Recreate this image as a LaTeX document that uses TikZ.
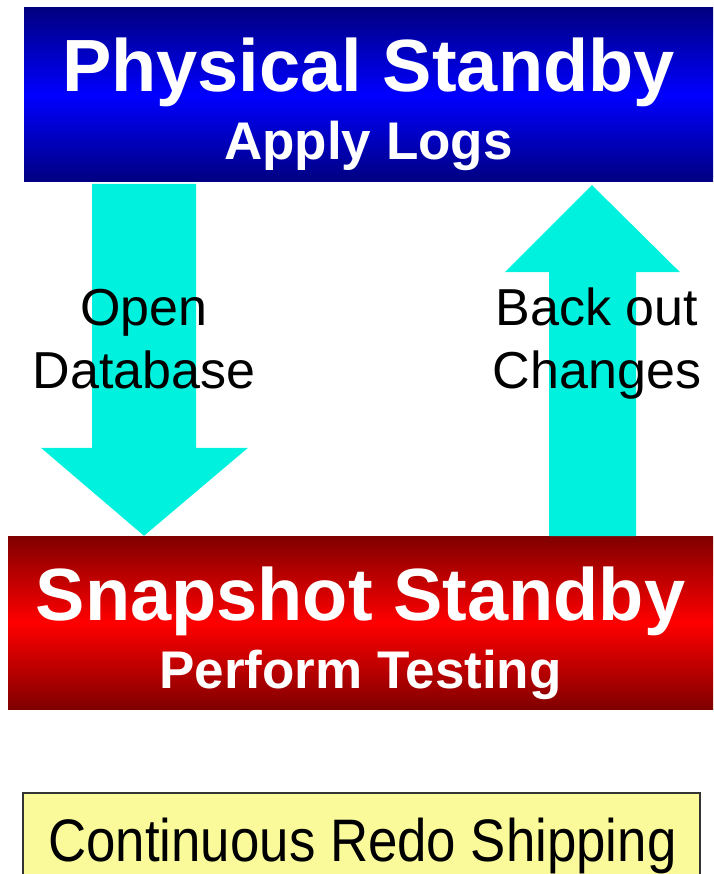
\documentclass[tikz,border=0pt]{standalone}
\usepackage{graphicx}
\usepackage{fontspec}
\setmainfont{Liberation Sans}
\usetikzlibrary{calc}

\definecolor{navyband}{RGB}{0,0,128}
\definecolor{blueband}{RGB}{0,0,255}
\definecolor{maroonband}{RGB}{128,0,0}
\definecolor{redband}{RGB}{255,0,0}
\definecolor{arrowcyan}{RGB}{0,242,222}
\definecolor{notefill}{RGB}{250,250,155}

\tikzset{
    band/.style={rectangle, inner sep=0pt, minimum height=174pt},
    bigtitle/.style={anchor=base, text=white, font=\fontsize{74}{89}\selectfont\bfseries},
    subtitle/.style={anchor=base, text=white, font=\fontsize{53}{64}\selectfont\bfseries},
    arrowtext/.style={anchor=base, font=\fontsize{52}{63}\selectfont},
}

\begin{document}
\begin{tikzpicture}[x=1pt, y=-1pt]
    \clip (0,0) rectangle (713,874);

    \node[band, minimum width=689pt,
        top color=navyband, bottom color=navyband, middle color=blueband] (phys) at (368.5,95) {};
    \node[band, minimum width=705pt, minimum height=173pt,
        top color=maroonband, bottom color=maroonband, middle color=redband] (snap) at (360.5,622.5) {};
    \node[rectangle, inner sep=0pt, draw=black!80, line width=1.5pt, fill=notefill,
        minimum width=677pt, minimum height=120pt, anchor=north] (shipping) at (361.5,792) {};

    \coordinate (downtip) at (144,0 |- snap.north);
    \coordinate (uptip) at ($(592,0 |- phys.south)+(0,3)$);

    \begin{scope}[fill=arrowcyan]
    \fill
        ($(downtip)+(-52,-352)$)
        to ($(downtip)+(52,-352)$)
        to ($(downtip)+(52,-88)$)
        to ($(downtip)+(104,-88)$)
        to (downtip)
        to ($(downtip)+(-103,-88)$)
        to ($(downtip)+(-52,-88)$)
        -- cycle;
    \fill
        (uptip)
        to ($(uptip)+(88,87)$)
        to ($(uptip)+(44,87)$)
        to ($(uptip)+(44,351)$)
        to ($(uptip)+(-43,351)$)
        to ($(uptip)+(-43,87)$)
        to ($(uptip)+(-87,87)$)
        -- cycle;
    \end{scope}

    \node[bigtitle] (physname) at (368.5,92) {Physical Standby};
    \node[subtitle] (physnote) at (368.5,160) {Apply Logs};
    \node[bigtitle] (snapname) at (360.5,620) {Snapshot Standby};
    \node[subtitle] (snapnote) at (360.5,688) {Perform Testing};

    \node[arrowtext] (openA) at (144,325) {Open};
    \node[arrowtext] (openB) at (144,388) {Database};
    \node[arrowtext] (backA) at (597,325) {Back out};
    \node[arrowtext] (backB) at (597,388) {Changes};

    \node[anchor=base, font=\fontsize{60}{72}\selectfont] (shiptext) at (362.5,861)
        {\scalebox{0.88}[1]{Continuous Redo Shipping}};

\end{tikzpicture}
\end{document}
